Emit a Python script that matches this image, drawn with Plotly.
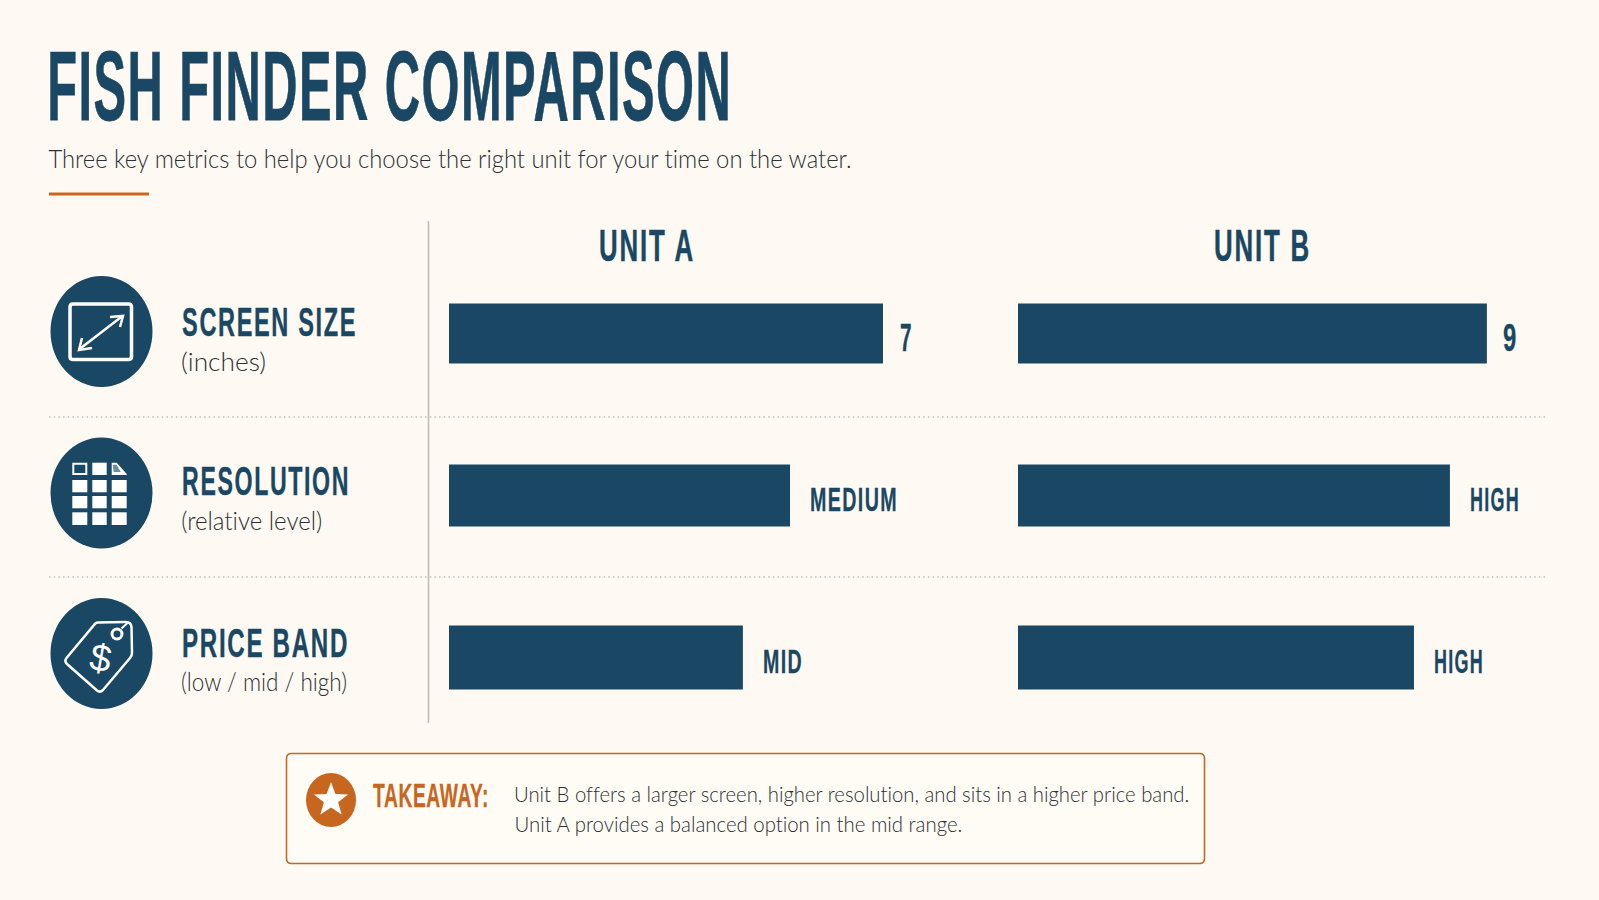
import json
import math
import plotly.graph_objects as go

# Chart content
title_text = "FISH FINDER COMPARISON"
subtitle_text = "Three key metrics to help you choose the right unit for your time on the water."
unit_names = ["UNIT A", "UNIT B"]
metric_names = ["SCREEN SIZE", "RESOLUTION", "PRICE BAND"]
metric_notes = ["(inches)", "(relative level)", "(low / mid / high)"]
unit_a_values = [7, 5.5, 4.74]
unit_b_values = [9, 8.29, 7.6]
unit_a_labels = ["7", "MEDIUM", "MID"]
unit_b_labels = ["9", "HIGH", "HIGH"]
takeaway_head = "TAKEAWAY:"
takeaway_lines = [
    "Unit B offers a larger screen, higher resolution, and sits in a higher price band.",
    "Unit A provides a balanced option in the mid range.",
]

# Palette and fonts
BG = "#FEFAF3"
NAVY = "#1A4763"
ORANGE = "#C7661F"
INK = "#2C3034"
RULE = "#BDBBB4"
DOT = "#BFBCB4"
DISPLAY = "Liberation Sans Narrow, Liberation Sans, sans-serif"
BODY = "Lato, sans-serif"

W, H = 1599, 900
bar_thickness = [0.37, 0.383, 0.395]

fig = go.Figure()
fig.add_trace(go.Bar(y=metric_names, x=unit_a_values, orientation="h", width=bar_thickness,
                     marker=dict(color=NAVY, line=dict(width=0)), xaxis="x", yaxis="y",
                     name=unit_names[0], hoverinfo="x+y"))
fig.add_trace(go.Bar(y=metric_names, x=unit_b_values, orientation="h", width=bar_thickness,
                     marker=dict(color=NAVY, line=dict(width=0)), xaxis="x2", yaxis="y",
                     name=unit_names[1], hoverinfo="x+y"))

shapes, annotations = [], []
# text -> [set width, letter spacing in em, extra stroke in px]
fitting = {}


def label(text, x, y, size, color=NAVY, family=DISPLAY, weight=700, fit=None, **kw):
    """Left-anchored text on the pixel overlay; fit sets its condensed width and spacing."""
    ann = dict(text=text, x=x, y=y, xref="x3", yref="y3", xanchor="left", yanchor="middle",
               showarrow=False, borderpad=0, borderwidth=0,
               font=dict(family=family, size=size, color=color, weight=weight))
    ann.update(kw)
    annotations.append(ann)
    if fit:
        fitting[text] = fit


def path(d, fill=None, color=None, width=0):
    shapes.append(dict(type="path", path=d, xref="x3", yref="y3", layer="above",
                       fillcolor=fill or "rgba(0,0,0,0)",
                       line=dict(color=color or "rgba(0,0,0,0)", width=width)))


def line(x0, y0, x1, y1, color, width, dash="solid"):
    shapes.append(dict(type="line", x0=x0, y0=y0, x1=x1, y1=y1, xref="x3", yref="y3",
                       layer="above", line=dict(color=color, width=width, dash=dash)))


def rect(x0, y0, x1, y1, fill=None, color=None, width=0):
    shapes.append(dict(type="rect", x0=x0, y0=y0, x1=x1, y1=y1, xref="x3", yref="y3",
                       layer="above", fillcolor=fill or "rgba(0,0,0,0)",
                       line=dict(color=color or "rgba(0,0,0,0)", width=width)))


def disc(cx, cy, rx, ry, fill):
    shapes.append(dict(type="circle", x0=cx - rx, x1=cx + rx, y0=cy - ry, y1=cy + ry,
                       xref="x3", yref="y3", layer="above", fillcolor=fill,
                       line=dict(width=0)))


def round_rect(x0, y0, x1, y1, r):
    return (f"M{x0+r},{y0} L{x1-r},{y0} Q{x1},{y0} {x1},{y0+r} L{x1},{y1-r} Q{x1},{y1} {x1-r},{y1} "
            f"L{x0+r},{y1} Q{x0},{y1} {x0},{y1-r} L{x0},{y0+r} Q{x0},{y0} {x0+r},{y0} Z")


# Header
label(title_text, 47, 86, 98, fit=[685, 0.03, 0.8])
label(subtitle_text, 48, 158, 26, color=INK, family=BODY, weight=300, fit=[803, 0, 0])
line(49, 194, 149, 194, ORANGE, 3)

# Table rules
line(428.5, 221, 428.5, 723, RULE, 1.5)
for rule_y in (417, 577):
    line(49, rule_y, 1547, rule_y, DOT, 1.5, dash="1.5px,3.2px")

# Column heads
label(unit_names[0], 599, 245, 45, fit=[96, 0.07, 0.5])
label(unit_names[1], 1214, 245, 45, fit=[97, 0.07, 0.5])

# Row heads
head_y = [322, 481, 643]
note_y = [361, 520, 681]
head_w = [175, 168, 167]
note_w = [85, 141, 166]
for name, note, hy, ny, hw, nw in zip(metric_names, metric_notes, head_y, note_y, head_w, note_w):
    label(name, 181.5, hy, 41, fit=[hw, 0.07, 0.4])
    label(note, 181, ny, 25, color=INK, family=BODY, weight=300, fit=[nw, 0, 0])

# Round icon backgrounds
for cy in (331.5, 493, 653.5):
    disc(101.5, cy, 51, 55.5, NAVY)

# Screen icon: frame with a double-headed arrow
path(round_rect(70, 304, 131.5, 359.5, 3), color="white", width=3.5)
line(79, 349.5, 122.5, 316, "white", 2.5)
path("M110,317 L123,316 L120,327", color="white", width=2.5)
path("M82,338 L79,350 L92,348", color="white", width=2.5)

# Resolution icon: pixel grid
grid_x = [(72.3, 87.3), (92.3, 106.7), (111.7, 126.7)]
grid_y = [(462.7, 475), (480, 492.3), (496, 508.3), (512.3, 525)]
for row, (y0, y1) in enumerate(grid_y):
    for col, (x0, x1) in enumerate(grid_x):
        if row == 0 and col == 0:
            rect(x0 + 1, y0 + 1, x1 - 1, y1 - 1, color="white", width=2)
        elif row == 0 and col == 2:
            path(f"M{x0},{y0} L{x0+5},{y0} L{x1},{y1-1} L{x1},{y1} L{x0},{y1} Z", fill="white")
            path(f"M{x0+1},{y0+2} L{x0+5},{y0+2} L{x0+9},{y1-3} L{x0+2},{y1-3} Z", fill="#6E8CA0")
        else:
            rect(x0, y0, x1, y1, fill="white")

# Price icon: tag with a hole and a dollar sign
path("M98,622.5 L126,622 Q131,622 131.5,627 L132,653 Q132,656 130,658 L103,690 Q100,693 97,690.5 "
     "L67,664 Q64,661 66.5,658 L94,625 Q95.5,622.5 98,622.5 Z", color="white", width=2.5)
disc(117, 634, 6.5, 6.5, "white")
disc(117, 634, 3.5, 3.5, NAVY)
line(121.5, 628.5, 128, 622.5, "white", 2)
label("$", 87, 658, 38, color="white", family="Liberation Sans, sans-serif", weight=400, textangle=10)

# Value labels sit just past the end of each bar
label_rows = [(0, 16.5, -4.5, 38), (1, 20, -3.5, 34), (2, 20, -3, 34)]
label_w = {"7": 13, "9": 15, "MEDIUM": 88, "MID": 40, "HIGH": 50}
for axis, values, labels in (("x", unit_a_values, unit_a_labels), ("x2", unit_b_values, unit_b_labels)):
    for (i, dx, dy, size), v, text in zip(label_rows, values, labels):
        annotations.append(dict(text=text, x=v, y=metric_names[i], xref=axis, yref="y",
                                xanchor="left", yanchor="middle", xshift=dx, yshift=dy,
                                showarrow=False, borderpad=0, borderwidth=0,
                                font=dict(family=DISPLAY, size=size, color=NAVY, weight=700)))
        fitting[text] = [label_w[text], 0.07, 0.3]

# Takeaway panel
path(round_rect(286.5, 753.5, 1204.5, 863.5, 5), fill="#FFFCF6", color=ORANGE, width=1.6)
disc(331, 800, 25, 27, ORANGE)
star = []
for k in range(10):
    r = 18 if k % 2 == 0 else 7.5
    a = -math.pi / 2 + k * math.pi / 5
    star.append(f"{331 + r * math.cos(a):.1f},{800 + r * math.sin(a):.1f}")
path("M" + " L".join(star) + " Z", fill="white")
label(takeaway_head, 373, 795, 34, color=ORANGE, fit=[116, 0.03, 0.3])
label(takeaway_lines[0], 514, 793.5, 22, color=INK, family=BODY, weight=300, fit=[675, 0, 0])
label(takeaway_lines[1], 514, 823, 22, color=INK, family=BODY, weight=300, fit=[448, 0, 0])

hidden = dict(visible=False, fixedrange=True)
fig.update_layout(
    width=W, height=H, margin=dict(l=0, r=0, t=0, b=0), autosize=False,
    paper_bgcolor=BG, plot_bgcolor="rgba(0,0,0,0)", showlegend=False, barmode="overlay",
    shapes=shapes, annotations=annotations,
    xaxis=dict(domain=[449 / W, (449 + 62 * 8) / W], range=[0, 8], anchor="y", **hidden),
    xaxis2=dict(domain=[1018 / W, (1018 + 52.1 * 10) / W], range=[0, 10], anchor="y", **hidden),
    yaxis=dict(domain=[1 - 738.5 / H, 1 - 252.5 / H], type="category", categoryorder="array",
               categoryarray=metric_names, range=[2.5, -0.5], **hidden),
    xaxis3=dict(domain=[0, 1], range=[0, W], anchor="y3", **hidden),
    yaxis3=dict(domain=[0, 1], range=[H, 0], anchor="x3", **hidden),
)
# An empty trace keeps the pixel overlay axes in the plot
fig.add_trace(go.Scatter(x=[None], y=[None], xaxis="x3", yaxis="y3", hoverinfo="skip"))

# Set the display lettering to its condensed width, spacing and weight
condense = """
(function () {
  var fitting = %s;
  function apply() {
    document.querySelectorAll('.annotation-text').forEach(function (el) {
      var fit = fitting[el.getAttribute('data-unformatted')];
      if (!fit) return;
      el.style.letterSpacing = '0px';
      el.style.fontVariantLigatures = 'none';
      var left = el.getBBox().x;
      el.style.letterSpacing = fit[1] + 'em';
      if (fit[2]) {
        el.style.stroke = el.style.fill;
        el.style.strokeWidth = fit[2] + 'px';
      }
      var box = el.getBBox();
      var s = fit[0] / box.width;
      el.setAttribute('transform',
        'translate(' + left + ',0) scale(' + s + ',1) translate(' + (-box.x) + ',0)');
    });
  }
  apply();
  if (document.fonts && document.fonts.ready) document.fonts.ready.then(apply);
})();
""" % json.dumps(fitting)

fig.write_html("out.html", post_script=condense, config=dict(displayModeBar=False))
